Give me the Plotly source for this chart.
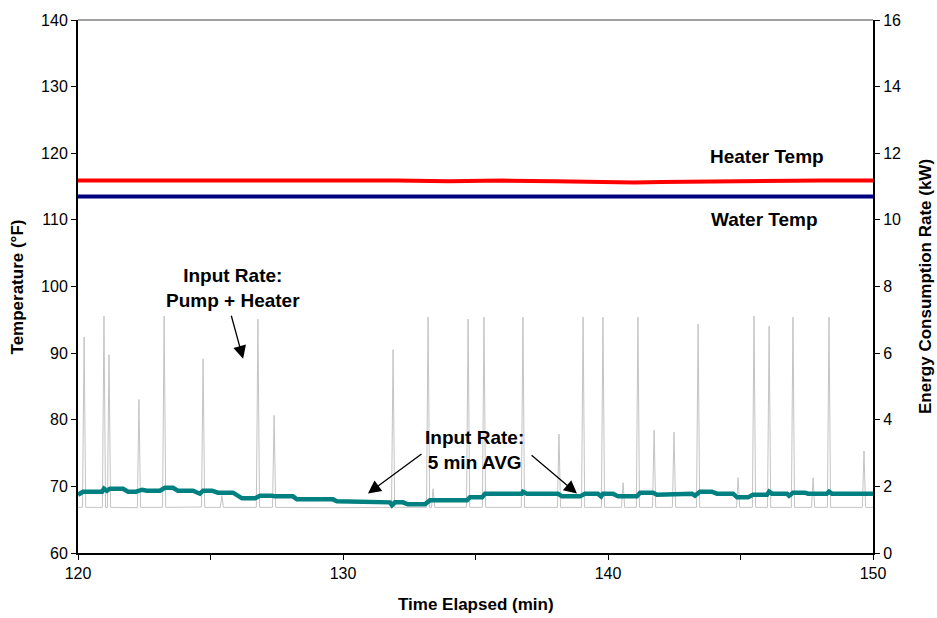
import plotly.graph_objects as go

# ---------------- data ----------------
# Input rate: pump + heater (kW), right axis
gray_time = [120.00, 120.17, 120.23, 120.29, 120.92, 120.98, 121.04, 121.11, 121.17, 121.23,
             122.24, 122.30, 122.36, 123.19, 123.25, 123.31, 124.66, 124.72, 124.78, 125.37,
             125.43, 125.49, 126.73, 126.79, 126.85, 127.34, 127.40, 127.46, 129.50, 130.60,
             131.83, 131.89, 131.95, 133.15, 133.21, 133.27, 133.34, 133.40, 133.46, 134.66,
             134.72, 134.78, 135.26, 135.32, 135.38, 136.73, 136.79, 136.85, 138.09, 138.15,
             138.21, 139.00, 139.06, 139.12, 139.75, 139.81, 139.87, 140.51, 140.57, 140.63,
             141.07, 141.13, 141.19, 141.68, 141.74, 141.80, 142.43, 142.49, 142.55, 143.34,
             143.40, 143.46, 144.85, 144.91, 144.97, 145.45, 145.51, 145.57, 146.02, 146.08,
             146.14, 146.92, 146.98, 147.04, 147.68, 147.74, 147.80, 148.28, 148.34, 148.40,
             149.60, 149.66, 149.72, 150.00]
gray_kw = [1.37, 1.37, 6.48, 1.37, 1.37, 7.11, 1.37, 1.37, 5.95, 1.37,
           1.36, 4.61, 1.37, 1.37, 7.11, 1.37, 1.38, 5.83, 1.37, 1.37,
           1.72, 1.37, 1.37, 7.02, 1.37, 1.37, 4.13, 1.37, 1.36, 1.37,
           1.37, 6.10, 1.37, 1.37, 7.08, 1.37, 1.37, 1.93, 1.37, 1.37,
           7.02, 1.37, 1.37, 7.08, 1.37, 1.37, 7.08, 1.37, 1.37, 3.57,
           1.37, 1.37, 7.08, 1.37, 1.37, 7.08, 1.37, 1.37, 2.11, 1.37,
           1.37, 7.08, 1.37, 1.37, 3.69, 1.37, 1.37, 3.63, 1.37, 1.37,
           6.87, 1.37, 1.37, 2.26, 1.37, 1.37, 7.11, 1.37, 1.37, 6.81,
           1.37, 1.37, 7.08, 1.37, 1.37, 2.26, 1.37, 1.37, 7.08, 1.37,
           1.37, 3.06, 1.37, 1.37]

# Input rate: 5 min average (kW), right axis
avg_time = [120.00, 120.19, 120.91, 120.98, 121.09, 121.21, 121.70, 121.89, 122.19, 122.42,
            122.60, 123.09, 123.28, 123.58, 123.77, 124.34, 124.60, 124.72, 125.06, 125.28,
            125.85, 126.11, 126.19, 126.68, 126.87, 127.32, 127.43, 128.11, 128.26, 129.62,
            129.77, 131.77, 131.85, 131.96, 132.26, 132.45, 133.09, 133.28, 134.68, 134.79,
            135.25, 135.36, 136.75, 136.79, 136.94, 138.11, 138.26, 138.94, 139.13, 139.62,
            139.74, 139.81, 140.19, 140.38, 141.09, 141.21, 141.70, 141.85, 142.34, 142.45,
            143.17, 143.28, 143.47, 143.92, 144.11, 144.72, 144.87, 145.28, 145.47, 146.00,
            146.08, 146.19, 146.75, 146.83, 146.98, 147.43, 147.55, 148.26, 148.34, 148.45,
            149.77, 149.89, 150.00]
avg_kw = [1.75, 1.84, 1.84, 1.93, 1.87, 1.93, 1.93, 1.84, 1.84, 1.90,
          1.87, 1.87, 1.96, 1.96, 1.87, 1.87, 1.78, 1.87, 1.87, 1.81,
          1.81, 1.70, 1.64, 1.64, 1.72, 1.72, 1.70, 1.70, 1.61, 1.61,
          1.55, 1.52, 1.43, 1.52, 1.52, 1.46, 1.46, 1.58, 1.58, 1.67,
          1.67, 1.78, 1.78, 1.84, 1.78, 1.78, 1.70, 1.70, 1.78, 1.78,
          1.70, 1.78, 1.78, 1.70, 1.70, 1.81, 1.81, 1.75, 1.75, 1.78,
          1.78, 1.72, 1.84, 1.84, 1.78, 1.78, 1.67, 1.67, 1.75, 1.75,
          1.84, 1.78, 1.78, 1.72, 1.81, 1.81, 1.78, 1.78, 1.84, 1.78,
          1.78, 1.81, 1.78]

# Temperatures (deg F), left axis
temp_time = [120, 122, 124, 126, 128, 130, 132, 134, 136, 138, 139, 140, 141, 142, 144, 146, 148, 150]
heater_f = [115.9, 115.9, 115.9, 115.9, 116.0, 115.9, 115.9, 115.8, 115.9, 115.8,
            115.7, 115.6, 115.6, 115.7, 115.8, 115.9, 115.9, 115.9]
water_f = [113.5, 113.5, 113.5, 113.5, 113.6, 113.6, 113.5, 113.5, 113.6, 113.5,
           113.6, 113.5, 113.5, 113.6, 113.5, 113.6, 113.5, 113.5]

x_ticks = [120, 125, 130, 135, 140, 145, 150]
x_labels = ["120", "", "130", "", "140", "", "150"]

FONT = "Liberation Sans, Arial, sans-serif"

fig = go.Figure()
fig.add_trace(go.Scatter(x=gray_time, y=gray_kw, yaxis="y2", mode="lines",
                         line=dict(color="#c4c4c4", width=1), showlegend=False))
fig.add_trace(go.Scatter(x=avg_time, y=avg_kw, yaxis="y2", mode="lines",
                         line=dict(color="#008080", width=4.5), showlegend=False))
fig.add_trace(go.Scatter(x=temp_time, y=heater_f, mode="lines",
                         line=dict(color="#ff0000", width=4), showlegend=False))
fig.add_trace(go.Scatter(x=temp_time, y=water_f, mode="lines",
                         line=dict(color="#000080", width=4), showlegend=False))

tickfont = dict(family=FONT, size=16, color="black")
fig.update_layout(
    width=937, height=618,
    margin=dict(l=78, r=64, t=15, b=65),
    paper_bgcolor="white", plot_bgcolor="white",
    xaxis=dict(range=[120, 150], tickvals=x_ticks, ticktext=x_labels,
               showgrid=False, zeroline=False, showline=True, linecolor="black",
               linewidth=2, ticks="outside", ticklen=5, tickcolor="black",
               tickfont=tickfont),
    yaxis=dict(range=[60, 140], dtick=10, showgrid=False, zeroline=False,
               showline=True, linecolor="black", linewidth=2, ticks="outside",
               ticklen=5, tickcolor="black", tickfont=tickfont),
    yaxis2=dict(range=[0, 16], dtick=2, overlaying="y", side="right",
                showgrid=False, zeroline=False, showline=True, linecolor="black",
                linewidth=2, ticks="outside", ticklen=5, tickcolor="black",
                tickfont=tickfont),
)

# top border
fig.add_shape(type="line", xref="paper", yref="paper", x0=0, x1=1, y0=1, y1=1,
              line=dict(color="#808080", width=1.5))

afont = dict(family=FONT, size=19, color="black")
tfont = dict(family=FONT, size=17, color="black")

# axis titles
fig.add_annotation(text="<b>Temperature (°F)</b>", xref="paper", yref="paper",
                   x=-0.0755, y=0.5, xanchor="center", yanchor="middle",
                   textangle=-90, showarrow=False, font=tfont)
fig.add_annotation(text="<b>Energy Consumption Rate (kW)</b>", xref="paper", yref="paper",
                   x=1.066, y=0.5, xanchor="center", yanchor="middle",
                   textangle=-90, showarrow=False, font=tfont)
fig.add_annotation(text="<b>Time Elapsed (min)</b>", xref="paper", yref="paper",
                   x=0.5, y=-0.097, xanchor="center", yanchor="middle",
                   showarrow=False, font=tfont)

# labels
fig.add_annotation(text="<b>Heater Temp</b>", x=146.0, y=119.5, showarrow=False, font=afont)
fig.add_annotation(text="<b>Water Temp</b>", x=145.92, y=110.1, showarrow=False, font=afont)
fig.add_annotation(text="<b>Input Rate:<br>Pump + Heater</b>", x=125.85, y=99.8,
                   showarrow=False, font=afont)
fig.add_annotation(text="<b>Input Rate:<br>5 min AVG</b>", x=134.98, y=75.4,
                   showarrow=False, font=afont)

# arrows
arrow = dict(showarrow=True, arrowhead=2, arrowsize=2.0, arrowwidth=1.3,
             arrowcolor="black", text="", axref="x", ayref="y")
fig.add_annotation(x=126.23, y=89.14, ax=125.77, ay=95.84, **arrow)
fig.add_annotation(x=130.94, y=68.92, ax=133.02, ay=75.02, **arrow)
fig.add_annotation(x=138.83, y=68.92, ax=137.06, ay=74.87, **arrow)

fig.write_html("out.html")
